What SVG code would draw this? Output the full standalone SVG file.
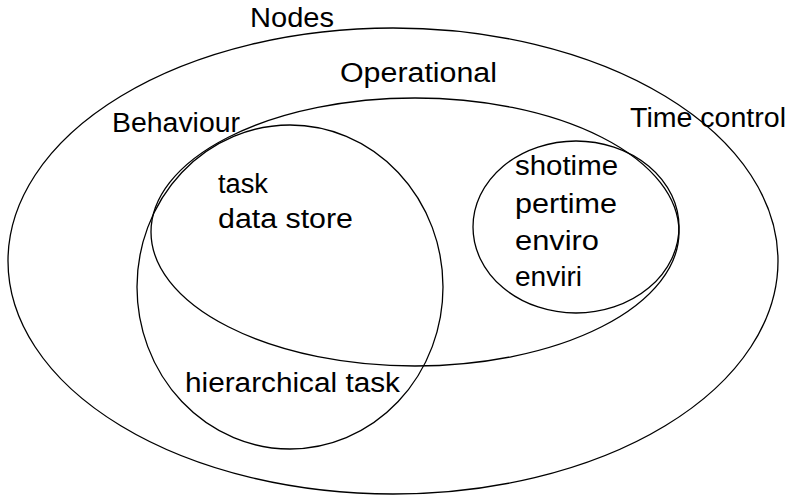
<svg xmlns="http://www.w3.org/2000/svg" width="792" height="495" viewBox="0 0 792 495">
  <style>
    .set { fill: none; stroke: #000; stroke-width: 1.3; }
    .lbl { font-family: "Liberation Sans", "DejaVu Sans", sans-serif; font-size: 27px; fill: #000; }
  </style>
  <rect width="792" height="495" fill="#fff"/>

  <!-- outer set: Nodes -->
  <g id="nodes">
    <ellipse class="set" cx="393" cy="261" rx="385" ry="233"/>
    <text class="lbl" x="250" y="27" textLength="84" lengthAdjust="spacingAndGlyphs">Nodes</text>
  </g>

  <!-- Operational set -->
  <g id="operational">
    <ellipse class="set" cx="415" cy="232" rx="264" ry="134"/>
    <text class="lbl" x="340" y="82" textLength="157" lengthAdjust="spacingAndGlyphs">Operational</text>
  </g>

  <!-- Behaviour set -->
  <g id="behaviour">
    <ellipse class="set" cx="290" cy="287" rx="153" ry="162"/>
    <text class="lbl" x="112" y="132" textLength="128" lengthAdjust="spacingAndGlyphs">Behaviour</text>
    <text class="lbl" x="218" y="193" textLength="50" lengthAdjust="spacingAndGlyphs">task</text>
    <text class="lbl" x="218" y="228" textLength="135" lengthAdjust="spacingAndGlyphs">data store</text>
    <text class="lbl" x="185" y="392" textLength="215" lengthAdjust="spacingAndGlyphs">hierarchical task</text>
  </g>

  <!-- Time control set -->
  <g id="time-control">
    <ellipse class="set" cx="576" cy="227" rx="103" ry="86"/>
    <text class="lbl" x="630" y="127" textLength="156" lengthAdjust="spacingAndGlyphs">Time control</text>
    <text class="lbl" x="515" y="175" textLength="103" lengthAdjust="spacingAndGlyphs">shotime</text>
    <text class="lbl" x="515" y="213" textLength="102" lengthAdjust="spacingAndGlyphs">pertime</text>
    <text class="lbl" x="515" y="250" textLength="84" lengthAdjust="spacingAndGlyphs">enviro</text>
    <text class="lbl" x="515" y="286" textLength="67" lengthAdjust="spacingAndGlyphs">enviri</text>
  </g>

  <g id="connectors"/>
</svg>
